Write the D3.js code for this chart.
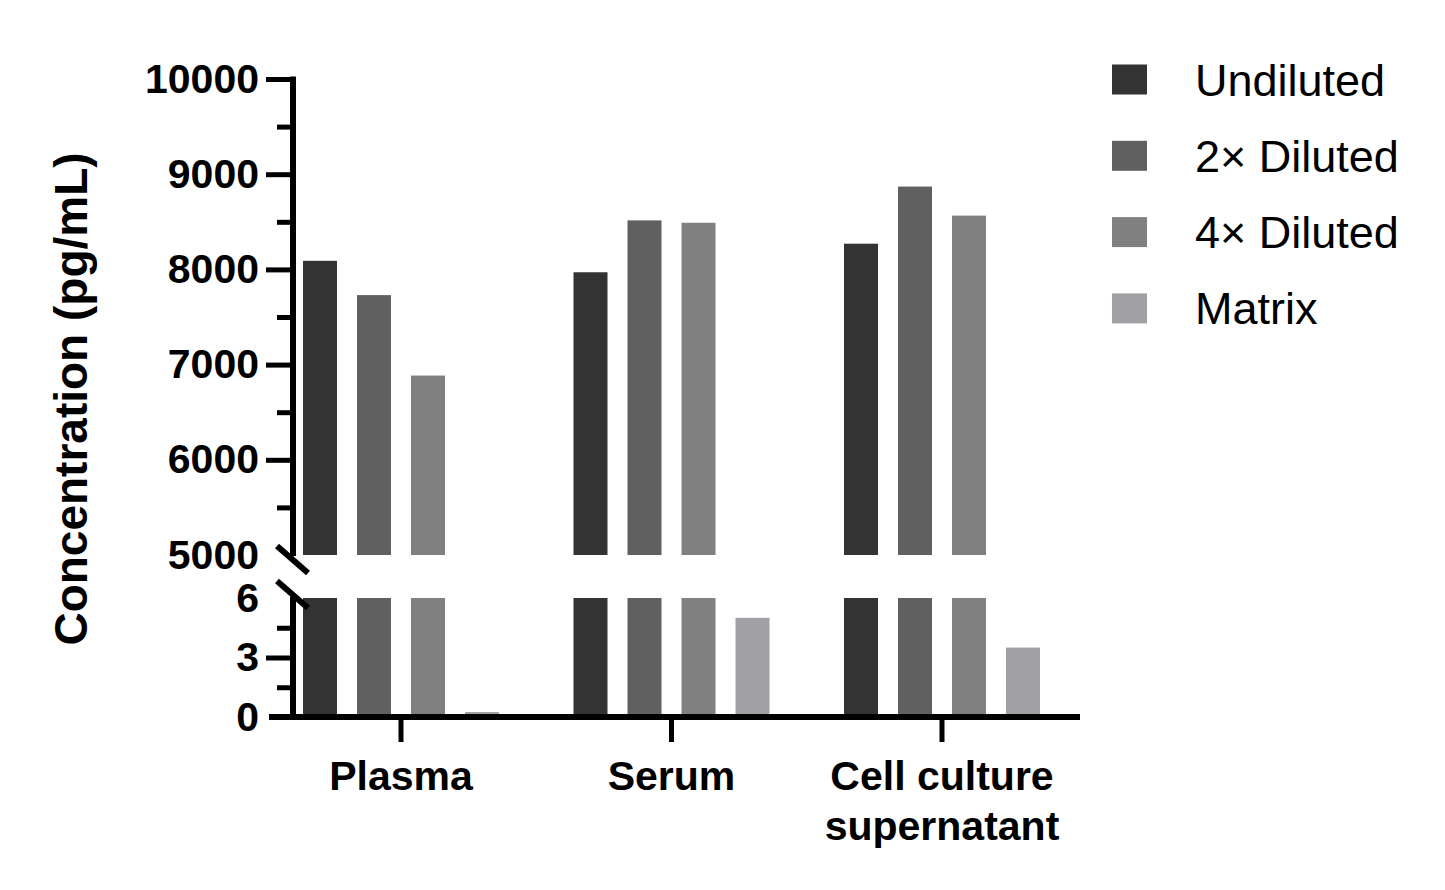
<!DOCTYPE html>
<html>
<head>
<meta charset="utf-8">
<script src="https://cdn.jsdelivr.net/npm/d3@7"></script>
<style>
  body { margin: 0; background: #fff; }
  svg { display: block; font-family: "Liberation Sans", Arial, sans-serif; }
</style>
</head>
<body>
<svg id="chart" width="1445" height="890"></svg>
<script>
// data
const categories = ["Plasma", "Serum", "Cell culture supernatant"];
const categoryLines = [["Plasma"], ["Serum"], ["Cell culture", "supernatant"]];
const series = ["Undiluted", "2× Diluted", "4× Diluted", "Matrix"];
const undiluted = [8090, 7970, 8270];
const diluted2x = [7730, 8515, 8870];
const diluted4x = [6885, 8490, 8565];
const matrix = [0.25, 5.0, 3.5];
const colors = ["#333333", "#606060", "#808080", "#a1a1a5"];

const upperMajor = [6000, 7000, 8000, 9000, 10000];
const upperMinor = [5500, 6500, 7500, 8500, 9500];
const lowerMinor = [1.5, 4.5];

const valuesBySeries = [undiluted, diluted2x, diluted4x, matrix];

const svg = d3.select("#chart");
const axisX = 293;
const fmt = d3.format("d");

// two y segments with a break between them
const yTop = d3.scaleLinear().domain([5000, 10000]).range([555, 79]);
const yBot = d3.scaleLinear().domain([0, 6]).range([717, 598]);

const x0 = d3.scaleBand().domain(categories).range([265.75, 1077.25]);
const groupW = 196;
const x1 = d3.scaleBand().domain(series).range([0, groupW]).paddingInner(20 / 54);
const barX = (c, s) => x0(c) + (x0.bandwidth() - groupW) / 2 + x1(s);

// bars
const rows = [];
series.forEach((s, si) => {
  categories.forEach((c, ci) => {
    rows.push({ s, c, v: valuesBySeries[si][ci], color: colors[si] });
  });
});

const bars = svg.append("g").attr("class", "bars");
bars.selectAll("rect.low")
  .data(rows)
  .join("rect")
  .attr("class", "low")
  .attr("x", d => barX(d.c, d.s))
  .attr("width", x1.bandwidth())
  .attr("y", d => yBot(Math.min(d.v, 6)))
  .attr("height", d => yBot(0) - yBot(Math.min(d.v, 6)))
  .attr("fill", d => d.color);

bars.selectAll("rect.high")
  .data(rows.filter(d => d.v > 5000))
  .join("rect")
  .attr("class", "high")
  .attr("x", d => barX(d.c, d.s))
  .attr("width", x1.bandwidth())
  .attr("y", d => yTop(d.v))
  .attr("height", d => yTop(5000) - yTop(d.v))
  .attr("fill", d => d.color);

// y axis, upper part
const styleAxis = g => {
  g.select(".domain").remove();
  g.selectAll(".tick line").attr("stroke", "#000").attr("stroke-width", 5);
  g.selectAll(".tick text")
    .attr("fill", "#000")
    .attr("font-size", 41)
    .attr("font-weight", "bold")
    .attr("font-family", "'Liberation Sans', Arial, sans-serif");
};

svg.append("g")
  .attr("transform", `translate(${axisX},0)`)
  .call(d3.axisLeft(yTop).tickValues(upperMajor).tickSize(27).tickPadding(7).tickFormat(fmt))
  .call(styleAxis);
svg.append("g")
  .attr("transform", `translate(${axisX},0)`)
  .call(d3.axisLeft(yTop).tickValues(upperMinor).tickSize(16).tickFormat(""))
  .call(styleAxis);
// 5000 label only (break mark replaces its tick)
svg.append("g")
  .attr("transform", `translate(${axisX},0)`)
  .call(d3.axisLeft(yTop).tickValues([5000]).tickSize(27).tickPadding(7).tickFormat(fmt))
  .call(styleAxis)
  .call(g => g.selectAll(".tick line").remove());

// y axis, lower part
svg.append("g")
  .attr("transform", `translate(${axisX},0)`)
  .call(d3.axisLeft(yBot).tickValues([3]).tickSize(27).tickPadding(7).tickFormat(fmt))
  .call(styleAxis);
svg.append("g")
  .attr("transform", `translate(${axisX},0)`)
  .call(d3.axisLeft(yBot).tickValues(lowerMinor).tickSize(16).tickFormat(""))
  .call(styleAxis);
svg.append("g")
  .attr("transform", `translate(${axisX},0)`)
  .call(d3.axisLeft(yBot).tickValues([0, 6]).tickSize(27).tickPadding(7).tickFormat(fmt))
  .call(styleAxis)
  .call(g => g.selectAll(".tick line").remove());

// vertical axis lines
svg.append("line")
  .attr("x1", axisX).attr("x2", axisX)
  .attr("y1", yTop(10000) - 2.5).attr("y2", yTop(5000) + 1)
  .attr("stroke", "#000").attr("stroke-width", 6);
svg.append("line")
  .attr("x1", axisX).attr("x2", axisX)
  .attr("y1", yBot(6) - 1).attr("y2", yBot(0))
  .attr("stroke", "#000").attr("stroke-width", 6);

// break marks
[yTop(5000) + 5, yBot(6) - 3].forEach(cy => {
  svg.append("line")
    .attr("x1", axisX - 16).attr("y1", cy - 14)
    .attr("x2", axisX + 15).attr("y2", cy + 13)
    .attr("stroke", "#000").attr("stroke-width", 6);
});

// x axis
svg.append("line")
  .attr("x1", 269).attr("x2", 1080)
  .attr("y1", yBot(0)).attr("y2", yBot(0))
  .attr("stroke", "#000").attr("stroke-width", 6);

const xAxis = svg.append("g")
  .attr("transform", `translate(0,${yBot(0)})`)
  .call(d3.axisBottom(x0).tickSize(25).tickPadding(0).tickFormat(""));
xAxis.select(".domain").remove();
xAxis.selectAll(".tick line").attr("stroke", "#000").attr("stroke-width", 5);

svg.append("g")
  .selectAll("text")
  .data(categories)
  .join("text")
  .attr("x", d => x0(d) + x0.bandwidth() / 2)
  .attr("y", 790)
  .attr("text-anchor", "middle")
  .attr("font-size", 41)
  .attr("font-weight", "bold")
  .each(function (d, i) {
    d3.select(this).selectAll("tspan")
      .data(categoryLines[i])
      .join("tspan")
      .attr("x", x0(d) + x0.bandwidth() / 2)
      .attr("dy", (t, j) => j === 0 ? 0 : 50)
      .text(t => t);
  });

// y title
svg.append("text")
  .attr("transform", "translate(71,399) rotate(-90)")
  .attr("text-anchor", "middle")
  .attr("dominant-baseline", "central")
  .attr("font-size", 46)
  .attr("font-weight", "bold")
  .text("Concentration (pg/mL)");

// legend
const legend = svg.append("g")
  .selectAll("g")
  .data(series)
  .join("g")
  .attr("transform", (d, i) => `translate(1112,${79.5 + i * 76.3})`);
legend.append("rect")
  .attr("x", 0).attr("y", -15)
  .attr("width", 35).attr("height", 30)
  .attr("fill", (d, i) => colors[i]);
legend.append("text")
  .attr("x", 83).attr("y", 16)
  .attr("font-size", 45)
  .attr("fill", "#000")
  .text(d => d);
</script>
</body>
</html>
